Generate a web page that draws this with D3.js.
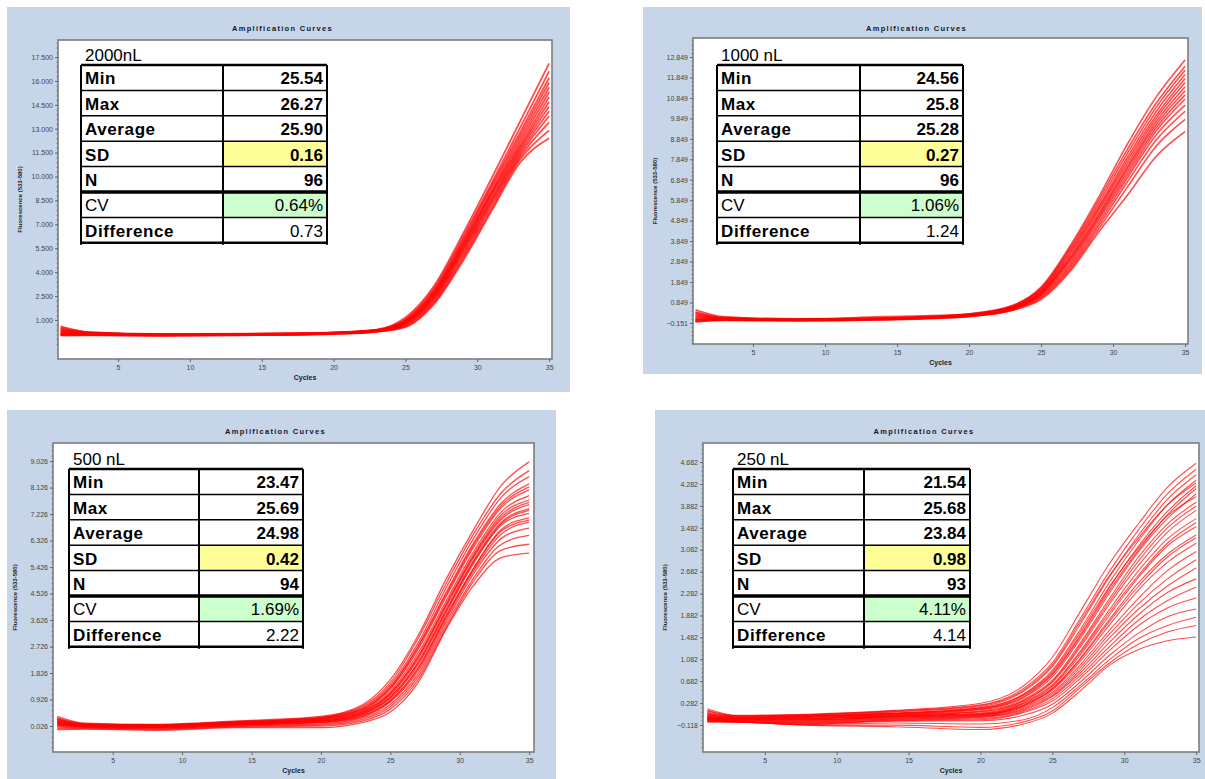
<!DOCTYPE html>
<html>
<head>
<meta charset="utf-8">
<script src="https://cdn.jsdelivr.net/npm/d3@7"></script>
<style>
  body { margin: 0; background: #fff; }
  svg { display: block; font-family: "Liberation Sans", Arial, sans-serif; }
</style>
</head>
<body>
<div id="chart"></div>
<script>
const cycles = [1, 3, 8, 14, 20, 23, 25, 27, 29, 31, 33, 35];
const xTicks = [5, 10, 15, 20, 25, 30, 35];
const rowLabels = ['Min', 'Max', 'Average', 'SD', 'N', 'CV', 'Difference'];
const volumes = ['2000nL', '1000 nL', '500 nL', '250 nL'];

const stats2000 = ['25.54', '26.27', '25.90', '0.16', '96', '0.64%', '0.73'];
const stats1000 = ['24.56', '25.8', '25.28', '0.27', '96', '1.06%', '1.24'];
const stats500 = ['23.47', '25.69', '24.98', '0.42', '94', '1.69%', '2.22'];
const stats250 = ['21.54', '25.68', '23.84', '0.98', '93', '4.11%', '4.14'];

const yTicks2000 = [1.0, 2.5, 4.0, 5.5, 7.0, 8.5, 10.0, 11.5, 13.0, 14.5, 16.0, 17.5];
const yTicks1000 = [-0.151, 0.849, 1.849, 2.849, 3.849, 4.849, 5.849, 6.849, 7.849, 8.849, 9.849, 10.849, 11.849, 12.849];
const yTicks500 = [0.026, 0.926, 1.826, 2.726, 3.626, 4.526, 5.426, 6.326, 7.226, 8.126, 9.026];
const yTicks250 = [-0.118, 0.282, 0.682, 1.082, 1.482, 1.882, 2.282, 2.682, 3.082, 3.482, 3.882, 4.282, 4.682];

const curves2000 = [
  [0.60, 0.24, 0.12, 0.14, 0.22, 0.40, 1.15, 3.15, 6.40, 9.90, 13.50, 17.10],
  [0.52, 0.22, 0.11, 0.13, 0.21, 0.38, 1.05, 3.00, 6.20, 9.60, 13.10, 16.60],
  [0.46, 0.20, 0.10, 0.12, 0.20, 0.37, 1.00, 2.90, 6.05, 9.45, 12.80, 16.20],
  [0.40, 0.19, 0.10, 0.12, 0.20, 0.36, 0.95, 2.80, 5.90, 9.30, 12.60, 15.90],
  [0.35, 0.17, 0.09, 0.11, 0.19, 0.35, 0.92, 2.75, 5.80, 9.10, 12.40, 15.60],
  [0.30, 0.16, 0.08, 0.10, 0.18, 0.34, 0.88, 2.65, 5.70, 9.00, 12.20, 15.30],
  [0.25, 0.14, 0.08, 0.10, 0.18, 0.33, 0.85, 2.60, 5.60, 8.90, 12.00, 15.00],
  [0.20, 0.12, 0.07, 0.09, 0.17, 0.32, 0.82, 2.55, 5.50, 8.75, 11.85, 14.70],
  [0.16, 0.11, 0.06, 0.09, 0.17, 0.31, 0.78, 2.45, 5.40, 8.60, 11.70, 14.40],
  [0.12, 0.10, 0.05, 0.08, 0.16, 0.30, 0.75, 2.40, 5.30, 8.50, 11.55, 14.10],
  [0.10, 0.08, 0.04, 0.07, 0.15, 0.29, 0.70, 2.30, 5.15, 8.35, 11.40, 13.80],
  [0.08, 0.07, 0.03, 0.06, 0.14, 0.28, 0.66, 2.20, 5.00, 8.20, 11.25, 13.40],
  [0.05, 0.06, 0.02, 0.05, 0.13, 0.27, 0.60, 2.10, 4.85, 8.00, 11.10, 12.90],
  [0.02, 0.04, 0.01, 0.04, 0.12, 0.26, 0.55, 2.00, 4.70, 7.85, 10.90, 12.40]
];

const curves1000 = [
  [0.50, 0.15, 0.05, 0.10, 0.30, 0.70, 1.60, 3.60, 6.00, 8.60, 10.90, 12.70],
  [0.40, 0.12, 0.04, 0.08, 0.28, 0.68, 1.55, 3.50, 5.85, 8.35, 10.60, 12.40],
  [0.35, 0.10, 0.03, 0.16, 0.27, 0.66, 1.50, 3.40, 5.70, 8.15, 10.40, 12.20],
  [0.30, 0.08, 0.02, 0.07, 0.26, 0.64, 1.45, 3.30, 5.55, 7.95, 10.20, 12.00],
  [0.25, 0.07, 0.02, 0.06, 0.25, 0.62, 1.40, 3.20, 5.45, 7.80, 10.00, 11.80],
  [0.20, 0.06, 0.01, 0.06, 0.24, 0.60, 1.37, 3.10, 5.35, 7.65, 9.85, 11.60],
  [0.15, 0.05, 0.01, 0.05, 0.23, 0.58, 1.33, 3.00, 5.20, 7.50, 9.70, 11.40],
  [0.10, 0.04, 0.00, 0.05, 0.22, 0.56, 1.30, 2.95, 5.10, 7.40, 9.55, 11.20],
  [0.05, 0.03, 0.00, 0.04, 0.21, 0.55, 1.26, 2.85, 5.00, 7.25, 9.40, 11.00],
  [0.02, 0.02, -0.01, 0.04, 0.20, 0.54, 1.22, 2.75, 4.90, 7.10, 9.25, 10.80],
  [0.00, 0.01, -0.02, 0.03, 0.19, 0.52, 1.18, 2.65, 4.75, 6.95, 9.05, 10.50],
  [-0.05, 0.00, -0.03, 0.02, 0.18, 0.50, 1.12, 2.55, 4.60, 6.75, 8.80, 10.20],
  [-0.08, -0.02, -0.04, 0.01, 0.17, 0.48, 1.06, 2.45, 4.45, 6.50, 8.50, 9.80],
  [-0.10, -0.03, -0.05, 0.00, 0.16, 0.46, 1.00, 2.35, 4.30, 6.10, 8.00, 9.20]
];

const curves500 = [
  [0.35, 0.12, 0.08, 0.20, 0.35, 0.75, 1.60, 3.10, 5.00, 6.70, 8.20, 9.00],
  [0.30, 0.10, 0.07, 0.18, 0.33, 0.70, 1.50, 3.00, 4.85, 6.55, 7.95, 8.70],
  [0.28, 0.09, 0.06, 0.17, 0.31, 0.66, 1.42, 2.85, 4.70, 6.40, 7.80, 8.50],
  [0.25, 0.08, 0.06, 0.16, 0.30, 0.62, 1.35, 2.75, 4.55, 6.25, 7.60, 8.25],
  [0.24, 0.08, 0.05, 0.15, 0.29, 0.60, 1.32, 2.70, 4.48, 6.18, 7.52, 8.15],
  [0.22, 0.07, 0.05, 0.14, 0.28, 0.58, 1.28, 2.62, 4.40, 6.10, 7.45, 8.05],
  [0.20, 0.06, 0.04, 0.13, 0.26, 0.55, 1.20, 2.50, 4.25, 5.95, 7.30, 7.85],
  [0.18, 0.05, 0.03, 0.12, 0.24, 0.52, 1.14, 2.40, 4.15, 5.85, 7.20, 7.70],
  [0.16, 0.05, 0.03, 0.12, 0.23, 0.50, 1.12, 2.36, 4.12, 5.80, 7.12, 7.62],
  [0.15, 0.04, 0.02, 0.11, 0.22, 0.48, 1.08, 2.30, 4.05, 5.75, 7.05, 7.55],
  [0.12, 0.03, 0.01, 0.10, 0.20, 0.45, 1.02, 2.20, 3.95, 5.65, 6.95, 7.40],
  [0.11, 0.03, 0.01, 0.10, 0.19, 0.44, 1.00, 2.16, 3.92, 5.60, 6.90, 7.35],
  [0.10, 0.02, 0.00, 0.09, 0.18, 0.42, 0.96, 2.10, 3.85, 5.55, 6.85, 7.25],
  [0.08, 0.01, -0.02, 0.07, 0.16, 0.38, 0.90, 2.00, 3.75, 5.40, 6.70, 7.10],
  [0.07, 0.01, -0.02, 0.07, 0.15, 0.37, 0.88, 1.98, 3.72, 5.36, 6.65, 7.02],
  [0.05, 0.00, -0.03, 0.06, 0.14, 0.34, 0.84, 1.90, 3.65, 5.30, 6.55, 6.95],
  [0.02, -0.02, -0.05, 0.04, 0.10, 0.30, 0.76, 1.80, 3.55, 5.20, 6.40, 6.75],
  [0.00, -0.04, -0.07, 0.02, 0.06, 0.25, 0.68, 1.70, 3.45, 5.05, 6.20, 6.50],
  [-0.05, -0.06, -0.09, 0.00, 0.02, 0.20, 0.60, 1.60, 3.35, 4.95, 6.00, 6.20],
  [-0.10, -0.08, -0.12, -0.03, -0.03, 0.15, 0.50, 1.50, 3.30, 4.80, 5.75, 5.90]
];

const curves250 = [
  [0.18, 0.06, 0.08, 0.15, 0.28, 0.60, 1.12, 1.98, 2.84, 3.56, 4.22, 4.66],
  [0.15, 0.05, 0.07, 0.14, 0.25, 0.55, 1.02, 1.85, 2.70, 3.45, 4.10, 4.55],
  [0.14, 0.05, 0.07, 0.13, 0.24, 0.52, 0.98, 1.80, 2.62, 3.30, 3.90, 4.30],
  [0.12, 0.04, 0.06, 0.12, 0.22, 0.50, 0.95, 1.75, 2.60, 3.35, 4.00, 4.45],
  [0.10, 0.03, 0.05, 0.10, 0.20, 0.45, 0.88, 1.65, 2.50, 3.25, 3.90, 4.35],
  [0.09, 0.03, 0.05, 0.10, 0.19, 0.44, 0.85, 1.60, 2.42, 3.12, 3.70, 4.05],
  [0.08, 0.02, 0.04, 0.09, 0.18, 0.42, 0.82, 1.55, 2.40, 3.15, 3.78, 4.25],
  [0.07, 0.02, 0.04, 0.09, 0.17, 0.40, 0.80, 1.52, 2.35, 3.08, 3.72, 4.20],
  [0.06, 0.01, 0.03, 0.08, 0.16, 0.38, 0.76, 1.48, 2.30, 3.05, 3.65, 4.10],
  [0.05, 0.00, 0.02, 0.07, 0.14, 0.35, 0.70, 1.40, 2.20, 2.95, 3.55, 3.95],
  [0.04, 0.00, 0.02, 0.06, 0.13, 0.33, 0.68, 1.36, 2.15, 2.88, 3.48, 3.88],
  [0.04, 0.00, 0.01, 0.06, 0.12, 0.32, 0.66, 1.32, 2.10, 2.80, 3.40, 3.80],
  [0.03, -0.01, 0.00, 0.05, 0.10, 0.30, 0.62, 1.25, 2.00, 2.70, 3.28, 3.65],
  [0.02, -0.01, 0.00, 0.05, 0.09, 0.28, 0.60, 1.22, 1.95, 2.62, 3.20, 3.58],
  [0.02, -0.02, -0.01, 0.04, 0.08, 0.27, 0.58, 1.18, 1.90, 2.58, 3.15, 3.50],
  [0.01, -0.02, -0.02, 0.03, 0.07, 0.25, 0.55, 1.12, 1.82, 2.48, 3.00, 3.35],
  [0.00, -0.02, -0.02, 0.03, 0.07, 0.24, 0.54, 1.10, 1.78, 2.42, 2.95, 3.30],
  [0.00, -0.03, -0.03, 0.02, 0.06, 0.23, 0.52, 1.06, 1.72, 2.35, 2.85, 3.20],
  [0.00, -0.03, -0.04, 0.01, 0.05, 0.21, 0.48, 1.00, 1.62, 2.20, 2.70, 3.05],
  [-0.01, -0.04, -0.05, 0.00, 0.04, 0.19, 0.45, 0.95, 1.55, 2.10, 2.55, 2.90],
  [-0.02, -0.04, -0.06, -0.01, 0.03, 0.17, 0.42, 0.90, 1.48, 2.00, 2.42, 2.75],
  [-0.02, -0.05, -0.07, -0.02, 0.02, 0.15, 0.40, 0.85, 1.40, 1.90, 2.30, 2.55],
  [-0.03, -0.05, -0.08, -0.03, 0.00, 0.13, 0.36, 0.80, 1.32, 1.80, 2.15, 2.40],
  [-0.04, -0.06, -0.09, -0.04, -0.02, 0.11, 0.32, 0.75, 1.25, 1.70, 2.02, 2.20],
  [-0.04, -0.06, -0.10, -0.05, -0.04, 0.06, 0.26, 0.68, 1.16, 1.56, 1.86, 2.00],
  [-0.05, -0.06, -0.11, -0.08, -0.10, -0.02, 0.20, 0.62, 1.08, 1.46, 1.70, 1.85],
  [-0.06, -0.06, -0.12, -0.12, -0.16, -0.06, 0.14, 0.58, 1.02, 1.36, 1.58, 1.70],
  [-0.06, -0.06, -0.12, -0.15, -0.20, -0.10, 0.10, 0.52, 0.98, 1.26, 1.42, 1.49]
];

// layout of the four panels (pixel boxes)
const panels = [
  { frame: [7, 7, 570, 392], plot: [58, 40, 552, 359], x: [0.82, 35.2], y: [-1.45, 18.57],
    ticks: yTicks2000, curves: curves2000, stats: stats2000, label: volumes[0],
    table: [81, 223, 327, 65], width: 1.8 },
  { frame: [643, 7, 1202, 374], plot: [693, 38, 1188, 344], x: [0.83, 35.2], y: [-1.18, 13.78],
    ticks: yTicks1000, curves: curves1000, stats: stats1000, label: volumes[1],
    table: [717, 860, 963, 65], width: 1.6 },
  { frame: [7, 410, 556, 779], plot: [53, 443, 534, 752], x: [0.7, 35.35], y: [-0.857, 9.64],
    ticks: yTicks500, curves: curves500, stats: stats500, label: volumes[2],
    table: [69, 199, 303, 469], width: 1.3 },
  { frame: [655, 410, 1205, 779], plot: [703, 443, 1199, 752], x: [0.7, 35.2], y: [-0.61, 5.03],
    ticks: yTicks250, curves: curves250, stats: stats250, label: volumes[3],
    table: [733, 864, 970, 469], width: 1.1 }
];

const rowH = 25.4;
const fmt = d3.format('.3f');

const svg = d3.select('#chart')
    .append('svg')
    .attr('width', 1205)
    .attr('height', 779);

panels.forEach((p, i) => drawPanel(p, i));

function drawPanel(p, idx) {
  const [fx0, fy0, fx1, fy1] = p.frame;
  const [px0, py0, px1, py1] = p.plot;
  const g = svg.append('g');

  g.append('rect')
      .attr('x', fx0).attr('y', fy0)
      .attr('width', fx1 - fx0).attr('height', fy1 - fy0)
      .attr('fill', '#c6d6e8');

  g.append('text')
      .attr('x', (fx0 + fx1) / 2 - 6)
      .attr('y', fy0 + 24)
      .attr('text-anchor', 'middle')
      .style('font-size', '7.5px')
      .style('font-weight', 'bold')
      .style('letter-spacing', '1.3px')
      .attr('fill', '#15152a')
      .text('Amplification Curves');

  g.append('rect')
      .attr('x', px0).attr('y', py0)
      .attr('width', px1 - px0).attr('height', py1 - py0)
      .attr('fill', '#fff')
      .attr('stroke', '#7c7c7c')
      .attr('stroke-width', 1.6);

  const x = d3.scaleLinear().domain(p.x).range([px0, px1]);
  const y = d3.scaleLinear().domain(p.y).range([py1, py0]);

  // y axis
  const step = p.ticks[1] - p.ticks[0];
  const minor = d3.range(p.ticks[0] - step, p.y[1], step / 5).filter(v => v > p.y[0]);
  g.append('g')
      .attr('transform', `translate(${px0},0)`)
      .call(d3.axisLeft(y).tickValues(minor).tickSize(1.5).tickFormat(''))
      .call(a => a.select('.domain').remove())
      .selectAll('line').attr('stroke', '#777');

  const yAxis = g.append('g')
      .attr('transform', `translate(${px0},0)`)
      .call(d3.axisLeft(y).tickValues(p.ticks).tickFormat(fmt).tickSize(3).tickPadding(2));
  yAxis.select('.domain').remove();
  yAxis.selectAll('line').attr('stroke', '#666');
  yAxis.selectAll('text')
      .style('font-size', '7px')
      .attr('fill', '#444');

  // x axis
  const xAxis = g.append('g')
      .attr('transform', `translate(0,${py1})`)
      .call(d3.axisBottom(x).tickValues(xTicks).tickSize(3).tickPadding(3));
  xAxis.select('.domain').remove();
  xAxis.selectAll('line').attr('stroke', '#666');
  xAxis.selectAll('text')
      .style('font-size', '7px')
      .attr('fill', '#444');

  g.append('text')
      .attr('x', (px0 + px1) / 2)
      .attr('y', py1 + 21)
      .attr('text-anchor', 'middle')
      .style('font-size', '7px')
      .style('font-weight', 'bold')
      .attr('fill', '#222')
      .text('Cycles');

  g.append('text')
      .attr('transform', `translate(${px0 - 36},${(py0 + py1) / 2}) rotate(-90)`)
      .attr('text-anchor', 'middle')
      .style('font-size', '6px')
      .style('font-weight', 'bold')
      .attr('fill', '#222')
      .text('Fluorescence (533-580)');

  // curves
  g.append('clipPath')
      .attr('id', 'clip' + idx)
      .append('rect')
      .attr('x', px0 + 1).attr('y', py0 + 1)
      .attr('width', px1 - px0 - 2).attr('height', py1 - py0 - 2);

  const line = d3.line()
      .x((d, i) => x(cycles[i]))
      .y(d => y(d))
      .curve(d3.curveMonotoneX);

  g.append('g')
      .attr('clip-path', `url(#clip${idx})`)
      .selectAll('path')
      .data(p.curves)
      .join('path')
      .attr('d', line)
      .attr('fill', 'none')
      .attr('stroke', '#ff0000')
      .attr('stroke-opacity', 0.7)
      .attr('stroke-width', p.width);

  drawTable(g, p);
}

function drawTable(g, p) {
  const [tx0, tdiv, tx1, ty0] = p.table;

  g.append('text')
      .attr('x', tx0 + 4)
      .attr('y', ty0 - 4)
      .style('font-size', '17px')
      .attr('fill', '#000')
      .text(p.label);

  const rows = g.selectAll('g.row')
      .data(rowLabels)
      .join('g')
      .attr('class', 'row')
      .attr('transform', (d, i) => `translate(0,${ty0 + i * rowH})`);

  rows.append('rect')
      .attr('x', tx0).attr('width', tdiv - tx0).attr('height', rowH)
      .attr('fill', '#fff');
  rows.append('rect')
      .attr('x', tdiv).attr('width', tx1 - tdiv).attr('height', rowH)
      .attr('fill', d => d === 'SD' ? '#ffff99' : d === 'CV' ? '#ccffcc' : '#fff');

  rows.append('text')
      .attr('x', tx0 + 4)
      .attr('y', rowH - 6)
      .style('font-size', '17px')
      .style('font-weight', d => d === 'CV' ? 'normal' : 'bold')
      .style('letter-spacing', d => d === 'CV' ? '0px' : '0.6px')
      .attr('fill', '#000')
      .text(d => d);

  rows.append('text')
      .attr('x', tx1 - 4)
      .attr('y', rowH - 6)
      .attr('text-anchor', 'end')
      .style('font-size', '17px')
      .style('font-weight', (d, i) => i < 5 ? 'bold' : 'normal')
      .attr('fill', '#000')
      .text((d, i) => p.stats[i]);

  // grid lines
  const ty1 = ty0 + rowLabels.length * rowH;
  d3.range(rowLabels.length + 1).forEach(i => {
    g.append('line')
        .attr('x1', tx0).attr('x2', tx1)
        .attr('y1', ty0 + i * rowH).attr('y2', ty0 + i * rowH)
        .attr('stroke', '#000')
        .attr('stroke-width', i === 5 ? 3.5 : (i === 0 || i === 7) ? 2.5 : 1.5);
  });
  [tx0, tdiv, tx1].forEach(xv => {
    g.append('line')
        .attr('x1', xv).attr('x2', xv)
        .attr('y1', ty0).attr('y2', ty1 + 2)
        .attr('stroke', '#000')
        .attr('stroke-width', 2);
  });
}
</script>
</body>
</html>
